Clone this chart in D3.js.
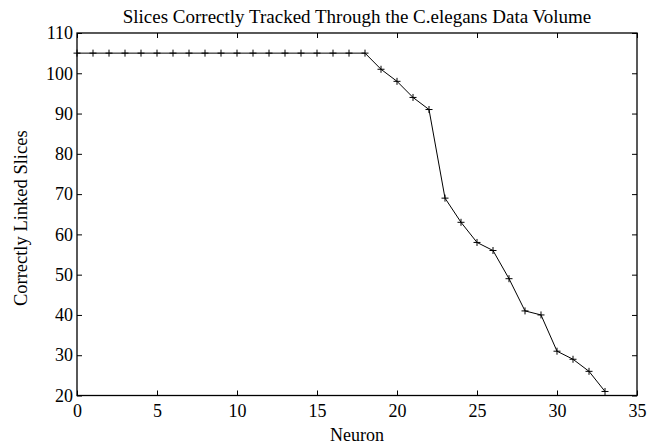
<!DOCTYPE html>
<html>
<head>
<meta charset="utf-8">
<script src="https://cdn.jsdelivr.net/npm/d3@7"></script>
<style>
  body { margin: 0; background: #fff; }
  svg text { font-family: "Liberation Serif", "Times New Roman", serif; fill: #000; }
</style>
</head>
<body>
<svg id="chart"></svg>
<script>
const neurons = [0, 1, 2, 3, 4, 5, 6, 7, 8, 9, 10, 11, 12, 13, 14, 15, 16, 17, 18,
  19, 20, 21, 22, 23, 24, 25, 26, 27, 28, 29, 30, 31, 32, 33]
const slices = [105, 105, 105, 105, 105, 105, 105, 105, 105, 105, 105, 105, 105, 105, 105, 105, 105, 105, 105,
  101, 98, 94, 91, 69, 63, 58, 56, 49, 41, 40, 31, 29, 26, 21]
const xTicks = [0, 5, 10, 15, 20, 25, 30, 35]
const yTicks = [20, 30, 40, 50, 60, 70, 80, 90, 100, 110]

const serif = '"Liberation Serif", "Times New Roman", serif'
const width = 658
const height = 446
const margin = { top: 33, right: 21, bottom: 50.5, left: 77 }
const w = width - margin.left - margin.right
const h = height - margin.top - margin.bottom

const svg = d3.select('#chart')
  .attr('width', width)
  .attr('height', height)

const g = svg.append('g')
  .attr('transform', `translate(${margin.left},${margin.top})`)

const x = d3.scaleLinear().domain([0, 35]).range([0, w])
const y = d3.scaleLinear().domain([20, 110]).range([h, 0])

const tickLen = 5

// axes: ticks pointing inward, mirrored on top/right
g.append('g')
  .attr('transform', `translate(0,${h})`)
  .call(d3.axisBottom(x).tickValues(xTicks).tickSizeInner(-tickLen).tickSizeOuter(0).tickPadding(9))
g.append('g')
  .call(d3.axisTop(x).tickValues(xTicks).tickSizeInner(-tickLen).tickSizeOuter(0).tickFormat(''))
g.append('g')
  .call(d3.axisLeft(y).tickValues(yTicks).tickSizeInner(-tickLen).tickSizeOuter(0).tickPadding(4))
g.append('g')
  .attr('transform', `translate(${w},0)`)
  .call(d3.axisRight(y).tickValues(yTicks).tickSizeInner(-tickLen).tickSizeOuter(0).tickFormat(''))

g.selectAll('.domain').remove()
g.selectAll('.tick line').attr('stroke', '#000').attr('stroke-width', 1)
g.selectAll('.tick text')
  .style('font-family', serif)
  .style('font-size', '18px')
  .attr('fill', '#000')

g.append('rect')
  .attr('width', w)
  .attr('height', h)
  .attr('fill', 'none')
  .attr('stroke', '#000')
  .attr('stroke-width', 1.3)

const data = neurons.map((n, i) => ({ x: n, y: slices[i] }))

const line = d3.line()
  .x((d) => x(d.x))
  .y((d) => y(d.y))

g.append('path')
  .datum(data)
  .attr('d', line)
  .attr('fill', 'none')
  .attr('stroke', '#000')
  .attr('stroke-width', 1)

const m = 3.5
g.selectAll('.marker')
  .data(data)
  .enter().append('path')
    .attr('class', 'marker')
    .attr('d', (d) => {
      const cx = x(d.x), cy = y(d.y)
      return `M${cx - m},${cy}H${cx + m}M${cx},${cy - m}V${cy + m}`
    })
    .attr('stroke', '#000')
    .attr('stroke-width', 1)

svg.append('text')
  .attr('x', margin.left + w / 2)
  .attr('y', 23)
  .attr('text-anchor', 'middle')
  .style('font-family', serif)
  .style('font-size', '19px')
  .text('Slices Correctly Tracked Through the C.elegans Data Volume')

svg.append('text')
  .attr('x', margin.left + w / 2)
  .attr('y', 441)
  .attr('text-anchor', 'middle')
  .style('font-family', serif)
  .style('font-size', '18px')
  .text('Neuron')

svg.append('text')
  .attr('transform', `translate(27,${margin.top + h / 2 + 4}) rotate(-90)`)
  .attr('text-anchor', 'middle')
  .style('font-family', serif)
  .style('font-size', '18.5px')
  .text('Correctly Linked Slices')
</script>
</body>
</html>
